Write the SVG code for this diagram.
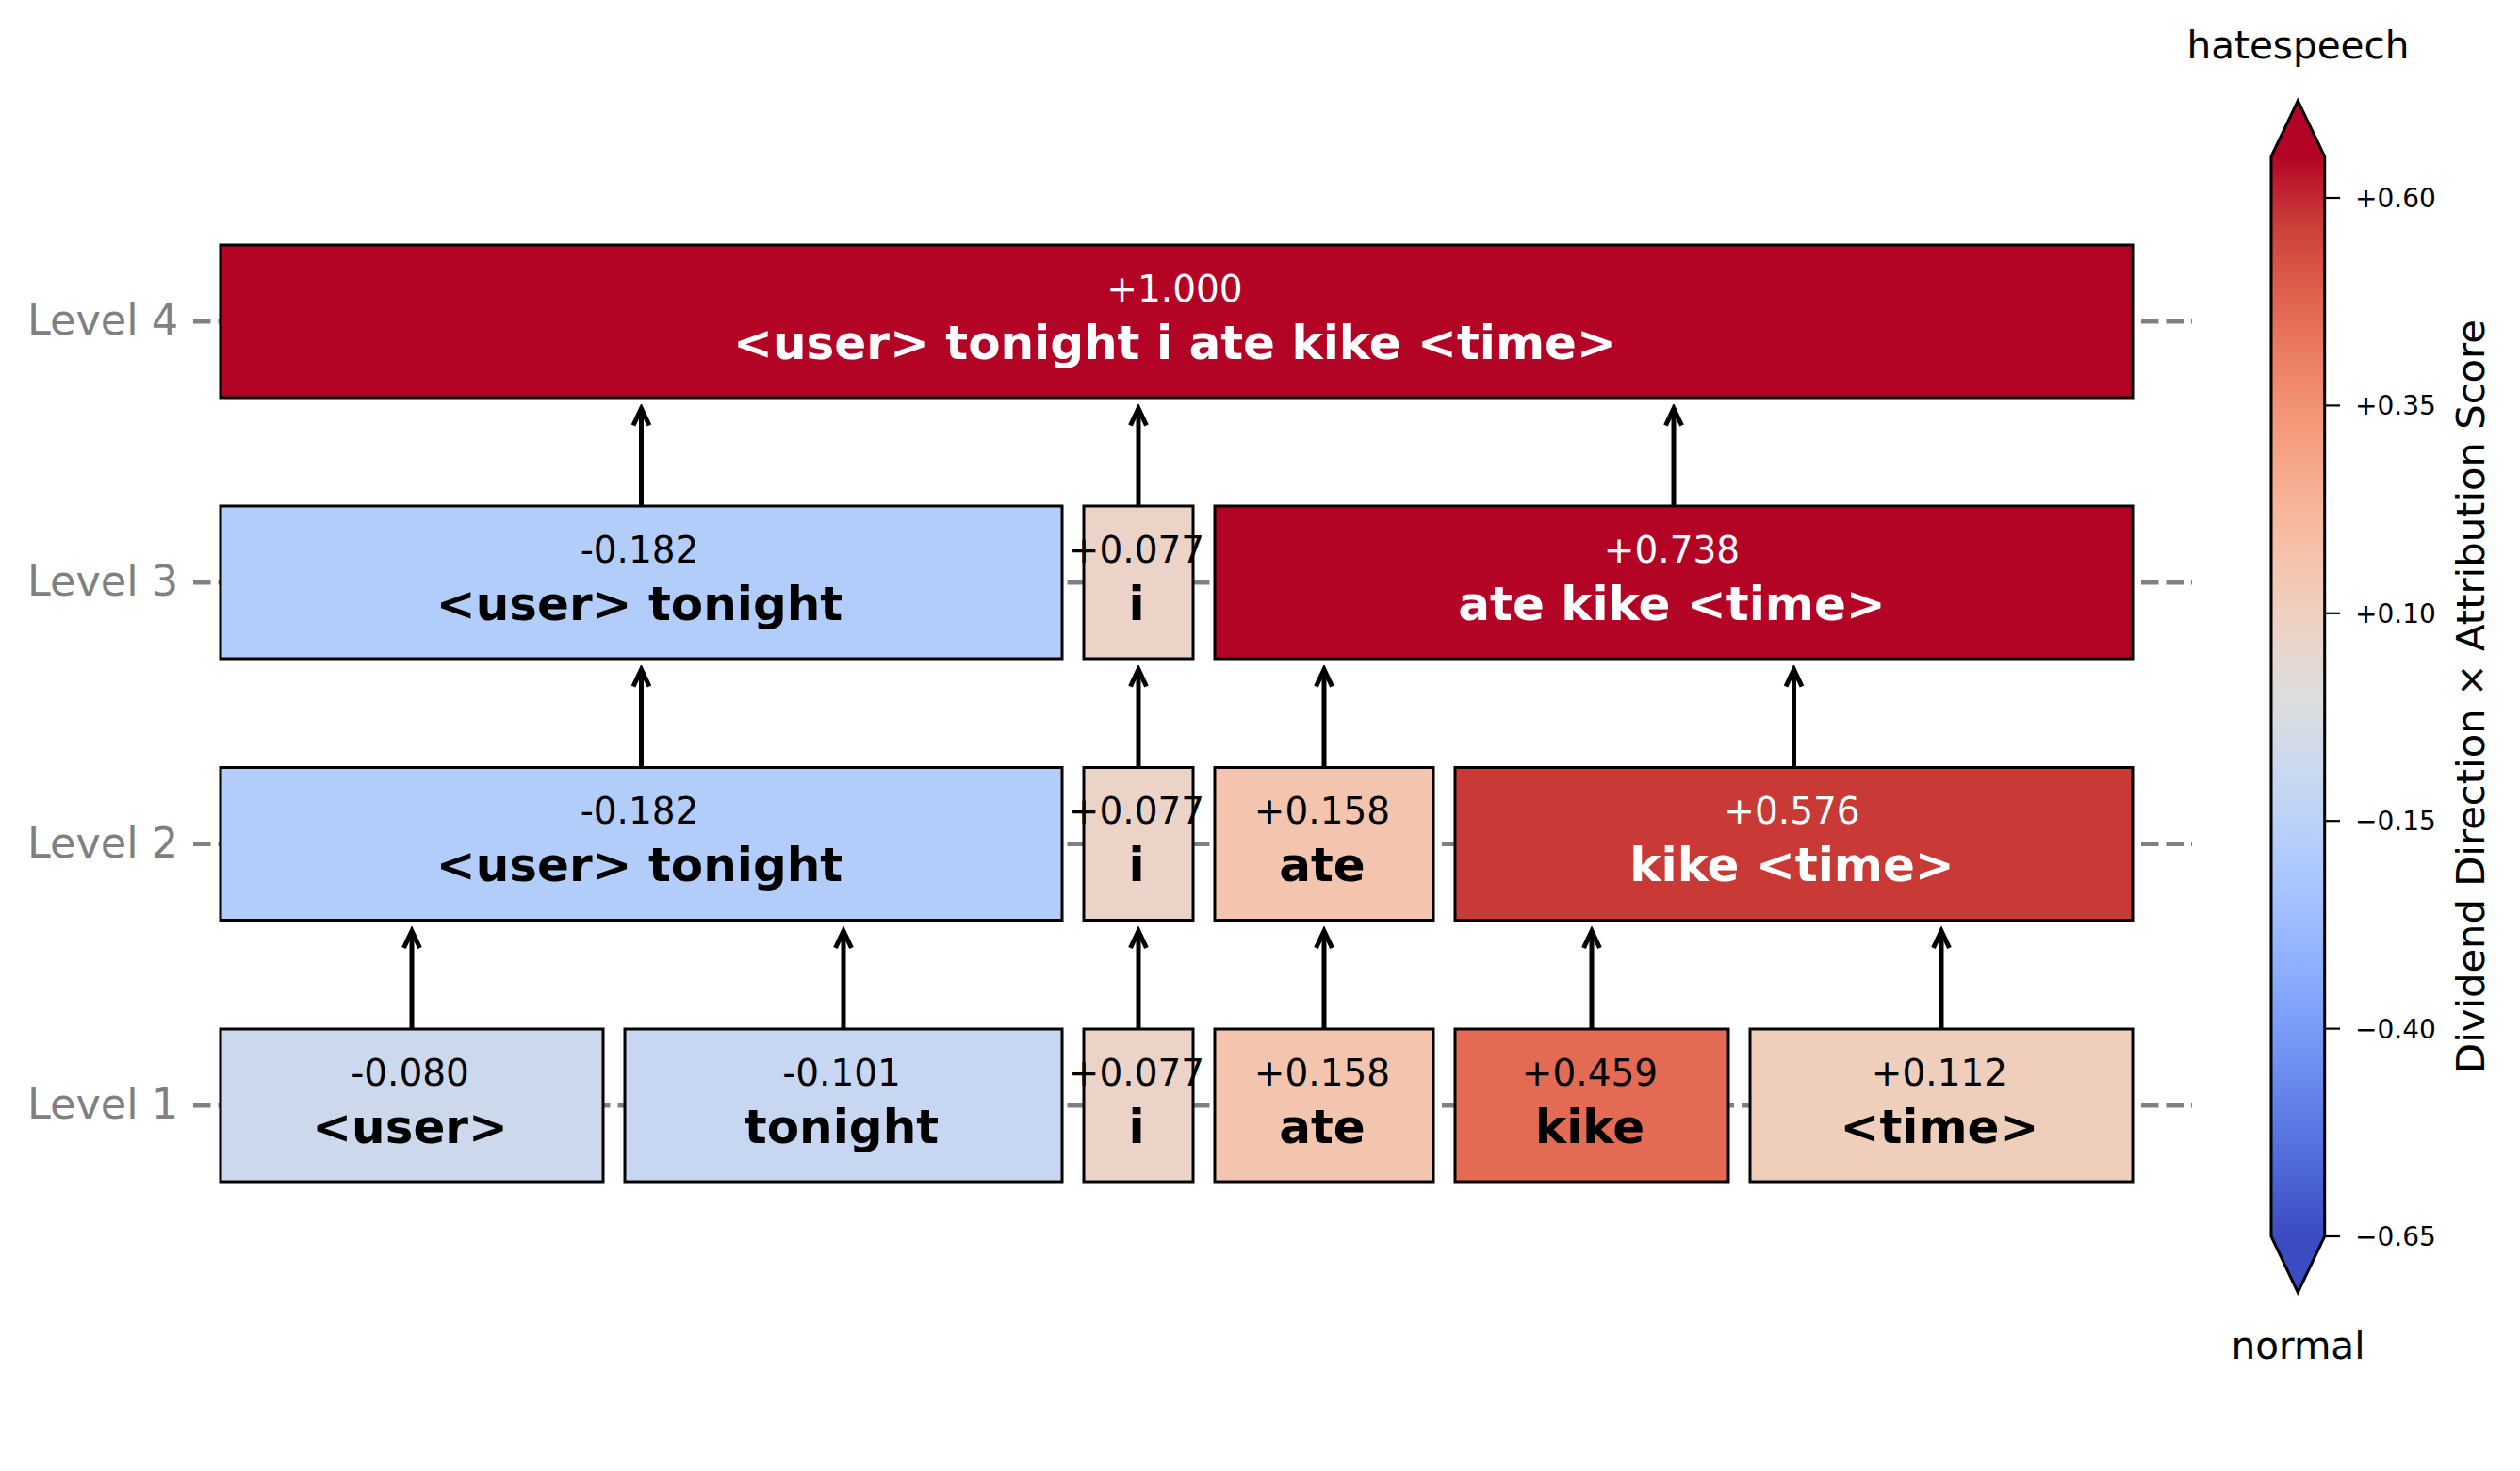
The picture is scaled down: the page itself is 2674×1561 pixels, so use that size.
<svg xmlns="http://www.w3.org/2000/svg" width="2674" height="1561" viewBox="0 0 2674 1561">
<style>
.bg{fill:#ffffff}
.guide{stroke:#808080;stroke-width:5;stroke-dasharray:18.5 8;fill:none}
.lvl{font-family:"DejaVu Sans",sans-serif;font-size:44.5px;fill:#808080;text-anchor:end}
.box{stroke:#000000;stroke-width:3}
.num{font-family:"DejaVu Sans",sans-serif;font-size:39px;text-anchor:middle}
.tok{font-family:"DejaVu Sans",sans-serif;font-size:50px;font-weight:bold;text-anchor:middle}
.dk{fill:#000000}
.lt{fill:#ffffff}
.conn{stroke:#000000;stroke-width:5;fill:none;marker-end:url(#head)}
.cbt{stroke:#000000;stroke-width:2.2}
.cbl{font-family:"DejaVu Sans",sans-serif;font-size:28px;fill:#000000}
.cbn{font-family:"DejaVu Sans",sans-serif;font-size:40.5px;fill:#000000;text-anchor:middle}
.cbx{font-family:"DejaVu Sans",sans-serif;font-size:41.7px;fill:#000000;text-anchor:middle}
</style>
<defs>
<marker id="head" markerUnits="userSpaceOnUse" viewBox="-25 -15 30 30" markerWidth="30" markerHeight="30" refX="0" refY="0" orient="auto">
<path d="M -18 -8.5 L 0 0 L -18 8.5" fill="none" stroke="#000000" stroke-width="5" stroke-linejoin="miter" stroke-miterlimit="10"/>
</marker>
<linearGradient id="cw" x1="0" y1="1" x2="0" y2="0">
<stop offset="0" stop-color="#3b4cc0"/>
<stop offset="0.0625" stop-color="#4d68d7"/>
<stop offset="0.125" stop-color="#6282ea"/>
<stop offset="0.1875" stop-color="#779af7"/>
<stop offset="0.25" stop-color="#8db0fe"/>
<stop offset="0.3125" stop-color="#a3c2ff"/>
<stop offset="0.375" stop-color="#b8d0f9"/>
<stop offset="0.4375" stop-color="#ccd9ee"/>
<stop offset="0.5" stop-color="#dddddd"/>
<stop offset="0.5625" stop-color="#ecd3c5"/>
<stop offset="0.625" stop-color="#f5c4ad"/>
<stop offset="0.6875" stop-color="#f7b194"/>
<stop offset="0.75" stop-color="#f49a7b"/>
<stop offset="0.8125" stop-color="#ec7f63"/>
<stop offset="0.875" stop-color="#de604d"/>
<stop offset="0.9375" stop-color="#cb3e38"/>
<stop offset="1" stop-color="#b40426"/>
</linearGradient>
</defs>
<rect class="bg" x="0" y="0" width="2674" height="1561"/>

<g id="level-axis">
<line class="guide" x1="205" y1="341" x2="2326" y2="341"/>
<line class="guide" x1="205" y1="618" x2="2326" y2="618"/>
<line class="guide" x1="205" y1="895.5" x2="2326" y2="895.5"/>
<line class="guide" x1="205" y1="1173" x2="2326" y2="1173"/>
<text class="lvl" x="189" y="355">Level 4</text>
<text class="lvl" x="189" y="632">Level 3</text>
<text class="lvl" x="189" y="909.5">Level 2</text>
<text class="lvl" x="189" y="1187">Level 1</text>
</g>

<g id="connectors">
<path class="conn" d="M 437 1092 L 437 988"/>
<path class="conn" d="M 895 1092 L 895 988"/>
<path class="conn" d="M 1208 1092 L 1208 988"/>
<path class="conn" d="M 1405 1092 L 1405 988"/>
<path class="conn" d="M 1689 1092 L 1689 988"/>
<path class="conn" d="M 2060 1092 L 2060 988"/>
<path class="conn" d="M 680.5 814.5 L 680.5 710.5"/>
<path class="conn" d="M 1208 814.5 L 1208 710.5"/>
<path class="conn" d="M 1405 814.5 L 1405 710.5"/>
<path class="conn" d="M 1903.5 814.5 L 1903.5 710.5"/>
<path class="conn" d="M 680.5 537 L 680.5 433.5"/>
<path class="conn" d="M 1208 537 L 1208 433.5"/>
<path class="conn" d="M 1776 537 L 1776 433.5"/>
</g>

<g id="n4-all">
<rect class="box" x="234" y="260" width="2029" height="162" fill="#b40426"/>
<text class="num lt" x="1246.5" y="319.5">+1.000</text>
<text class="tok lt" x="1246.5" y="380.5">&lt;user&gt; tonight i ate kike &lt;time&gt;</text>
</g>

<g id="n3-user-tonight">
<rect class="box" x="234" y="537" width="893" height="162" fill="#b3cdfb"/>
<text class="num dk" x="678.5" y="596.5">-0.182</text>
<text class="tok dk" x="678.5" y="657.5">&lt;user&gt; tonight</text>
</g>
<g id="n3-i">
<rect class="box" x="1150" y="537" width="116" height="162" fill="#ebd4c7"/>
<text class="num dk" x="1206" y="596.5">+0.077</text>
<text class="tok dk" x="1206" y="657.5">i</text>
</g>
<g id="n3-ate-kike-time">
<rect class="box" x="1289" y="537" width="974" height="162" fill="#b40426"/>
<text class="num lt" x="1774" y="596.5">+0.738</text>
<text class="tok lt" x="1774" y="657.5">ate kike &lt;time&gt;</text>
</g>

<g id="n2-user-tonight">
<rect class="box" x="234" y="814.5" width="893" height="162" fill="#b3cdfb"/>
<text class="num dk" x="678.5" y="874">-0.182</text>
<text class="tok dk" x="678.5" y="935">&lt;user&gt; tonight</text>
</g>
<g id="n2-i">
<rect class="box" x="1150" y="814.5" width="116" height="162" fill="#ebd4c7"/>
<text class="num dk" x="1206" y="874">+0.077</text>
<text class="tok dk" x="1206" y="935">i</text>
</g>
<g id="n2-ate">
<rect class="box" x="1289" y="814.5" width="232" height="162" fill="#f4c5ae"/>
<text class="num dk" x="1403" y="874">+0.158</text>
<text class="tok dk" x="1403" y="935">ate</text>
</g>
<g id="n2-kike-time">
<rect class="box" x="1544" y="814.5" width="719" height="162" fill="#c93a37"/>
<text class="num lt" x="1901.5" y="874">+0.576</text>
<text class="tok lt" x="1901.5" y="935">kike &lt;time&gt;</text>
</g>

<g id="n1-user">
<rect class="box" x="234" y="1092" width="406" height="162" fill="#ccd9ed"/>
<text class="num dk" x="435" y="1151.5">-0.080</text>
<text class="tok dk" x="435" y="1212.5">&lt;user&gt;</text>
</g>
<g id="n1-tonight">
<rect class="box" x="663" y="1092" width="464" height="162" fill="#c7d7f1"/>
<text class="num dk" x="893" y="1151.5">-0.101</text>
<text class="tok dk" x="893" y="1212.5">tonight</text>
</g>
<g id="n1-i">
<rect class="box" x="1150" y="1092" width="116" height="162" fill="#ebd4c7"/>
<text class="num dk" x="1206" y="1151.5">+0.077</text>
<text class="tok dk" x="1206" y="1212.5">i</text>
</g>
<g id="n1-ate">
<rect class="box" x="1289" y="1092" width="232" height="162" fill="#f4c5ae"/>
<text class="num dk" x="1403" y="1151.5">+0.158</text>
<text class="tok dk" x="1403" y="1212.5">ate</text>
</g>
<g id="n1-kike">
<rect class="box" x="1544" y="1092" width="290" height="162" fill="#e36b54"/>
<text class="num dk" x="1687" y="1151.5">+0.459</text>
<text class="tok dk" x="1687" y="1212.5">kike</text>
</g>
<g id="n1-time">
<rect class="box" x="1857" y="1092" width="406" height="162" fill="#f0cebc"/>
<text class="num dk" x="2058" y="1151.5">+0.112</text>
<text class="tok dk" x="2058" y="1212.5">&lt;time&gt;</text>
</g>

<g id="colorbar">
<rect x="2410" y="166" width="56.7" height="1146" fill="url(#cw)"/>
<polygon points="2410,166 2438.3,107 2466.7,166" fill="#b40426"/>
<polygon points="2410,1312 2438.3,1371.5 2466.7,1312" fill="#3b4cc0"/>
<polygon points="2438.3,107 2466.7,166 2466.7,1312 2438.3,1371.5 2410,1312 2410,166" fill="none" stroke="#000000" stroke-width="3"/>
<line class="cbt" x1="2466.7" y1="210" x2="2483" y2="210"/>
<line class="cbt" x1="2466.7" y1="430.4" x2="2483" y2="430.4"/>
<line class="cbt" x1="2466.7" y1="650.8" x2="2483" y2="650.8"/>
<line class="cbt" x1="2466.7" y1="871.2" x2="2483" y2="871.2"/>
<line class="cbt" x1="2466.7" y1="1091.6" x2="2483" y2="1091.6"/>
<line class="cbt" x1="2466.7" y1="1312" x2="2483" y2="1312"/>
<text class="cbl" x="2499" y="220">+0.60</text>
<text class="cbl" x="2499" y="440.4">+0.35</text>
<text class="cbl" x="2499" y="660.8">+0.10</text>
<text class="cbl" x="2499" y="881.2">−0.15</text>
<text class="cbl" x="2499" y="1101.6">−0.40</text>
<text class="cbl" x="2499" y="1322">−0.65</text>
<text class="cbn" x="2438.5" y="61.7">hatespeech</text>
<text class="cbn" x="2438.5" y="1441.7">normal</text>
<text class="cbx" transform="translate(2636 739) rotate(-90)" x="0" y="0">Dividend Direction × Attribution Score</text>
</g>
</svg>
